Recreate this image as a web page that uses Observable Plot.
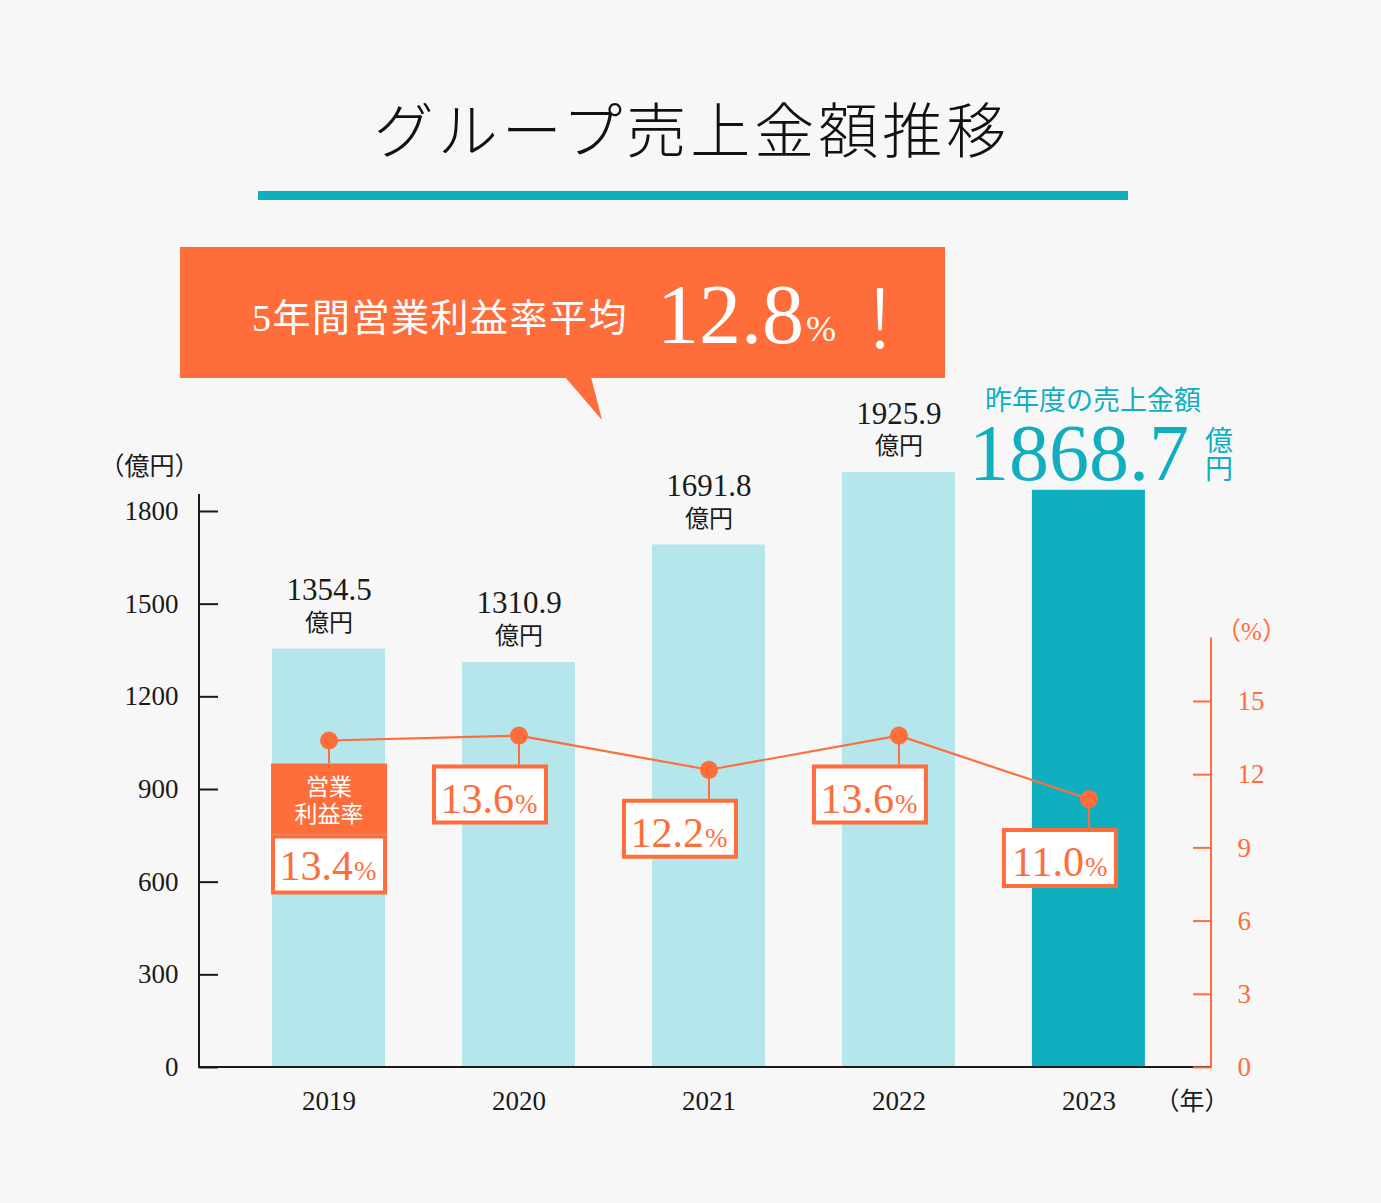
<!DOCTYPE html>
<html lang="ja">
<head>
<meta charset="utf-8">
<script src="https://cdn.jsdelivr.net/npm/d3@7"></script>
<script src="https://cdn.jsdelivr.net/npm/@observablehq/plot@0.6"></script>
<style>
  html, body { margin: 0; padding: 0; background: #f7f7f7; }
  #wrap { position: relative; width: 1381px; height: 1203px; background: #f7f7f7; overflow: hidden; }
  #wrap > svg { position: absolute; left: 0; top: 0; }
</style>
</head>
<body>
<div id="wrap">
  <svg id="header" width="1381" height="440" xmlns="http://www.w3.org/2000/svg">
    <text x="692" y="153" text-anchor="middle" font-size="60" letter-spacing="4" font-weight="300"
          font-family="'Noto Sans CJK JP', sans-serif" fill="#111">グループ売上金額推移</text>
    <rect x="258" y="191" width="870" height="9" fill="#0fafc0"/>
    <rect x="180" y="247" width="765" height="131" fill="#ff6d3b"/>
    <polygon points="565,377 591,377 602,420" fill="#ff6d3b"/>
    <text x="252" y="331" font-size="38" letter-spacing="1.5" fill="#fff"
          font-family="'Liberation Serif','Noto Sans CJK JP', serif">5年間営業利益率平均</text>
    <text id="avg" x="804" y="343" text-anchor="end" font-size="84" fill="#fff"
          font-family="'Liberation Serif', serif"></text>
    <text x="806" y="341" font-size="36" fill="#fff" font-family="'Liberation Serif', serif">%</text>
    <text x="880" y="348" text-anchor="middle" font-size="80" font-weight="300" fill="#fff"
          font-family="'Noto Sans CJK JP', sans-serif">！</text>
  </svg>
</div>
<script>
// ---- data ----
const years = ["2019", "2020", "2021", "2022", "2023"];
const sales = [1354.5, 1310.9, 1691.8, 1925.9, 1868.7];      // 億円
const opMargin = [13.4, 13.6, 12.2, 13.6, 11.0];             // 営業利益率 %
const salesTicks = [0, 300, 600, 900, 1200, 1500, 1800];
const marginTicks = [0, 3, 6, 9, 12, 15];

// ---- styling ----
const ORANGE = "#ff6d3b", TEAL = "#0fafc0", LIGHT = "#b5e6eb", INK = "#1a1a1a";
const SERIF = "'Liberation Serif','Noto Sans CJK JP',serif";
const K = 79;              // sales units per 1 % on the secondary axis
const Y_MAX = 1855;        // top of left axis line
const PCT_AXIS_TOP = 17.6; // top of right axis line (in %)

const rows = years.map((year, i) => ({year, sales: sales[i], margin: opMargin[i]}));
const past = rows.slice(0, -1), latest = rows.slice(-1);
const first = rows.slice(0, 1), rest = rows.slice(1);
const pctY = d => d.margin * K;

document.getElementById("avg").textContent = d3.mean(opMargin).toFixed(1);

// custom symbols (rect boxes and stems hanging under the dots)
const boxSym = (w, h, top, shift) => ({draw(ctx) { ctx.rect(shift - w / 2, top, w, h); }});
const stemSym = len => ({draw(ctx) { ctx.moveTo(0, 0); ctx.lineTo(0, len); }});

function axisLines(index, scales, values, dims) {
  const {width, height, marginLeft, marginRight, marginBottom} = dims;
  const y = scales.y;
  const xl = marginLeft, xr = width - marginRight, yb = height - marginBottom;
  const g = d3.create("svg:g");
  g.append("line").attr("x1", xl).attr("x2", xl).attr("y1", y(Y_MAX)).attr("y2", yb)
    .attr("stroke", INK).attr("stroke-width", 2);
  g.append("line").attr("x1", xl - 1).attr("x2", xr).attr("y1", yb).attr("y2", yb)
    .attr("stroke", INK).attr("stroke-width", 2);
  g.append("line").attr("x1", xr).attr("x2", xr).attr("y1", y(PCT_AXIS_TOP * K)).attr("y2", yb + 1)
    .attr("stroke", ORANGE).attr("stroke-width", 2);
  return g.node();
}

const chart = Plot.plot({
  width: 1381,
  height: 1203,
  marginTop: 494,
  marginBottom: 136,
  marginLeft: 199,
  marginRight: 170,
  style: {background: "transparent", fontFamily: SERIF, overflow: "visible"},
  x: {type: "band", domain: years, paddingInner: 0.405, paddingOuter: 0.366, align: 0.525, round: false},
  y: {domain: [0, Y_MAX]},
  marks: [
    Plot.barY(past, {x: "year", y: "sales", fill: LIGHT}),
    Plot.barY(latest, {x: "year", y: "sales", fill: TEAL}),
    axisLines,
    Plot.axisY(salesTicks, {anchor: "left", tickSize: 19, dx: 19, tickPadding: 21, fontSize: 27,
      tickFormat: d => String(d), stroke: INK, strokeWidth: 2, fill: INK, label: null}),
    Plot.axisY(marginTicks.map(v => v * K), {anchor: "right", tickSize: 19, dx: -19, tickPadding: 26,
      tickFormat: d => String(Math.round(d / K)), fontSize: 27, stroke: ORANGE, strokeWidth: 2,
      fill: ORANGE, label: null}),
    Plot.axisX({tickSize: 0, tickPadding: 23, fontSize: 27, fill: INK, label: null}),
    Plot.text(["（億円）"], {frameAnchor: "top-left", dx: 0, dy: -37, textAnchor: "end", fontSize: 25, fill: INK}),
    Plot.text(["（年）"], {frameAnchor: "bottom-right", dx: 18, dy: 42, textAnchor: "end", fontSize: 25, fill: INK}),
    Plot.text(["（%）"], {y: [PCT_AXIS_TOP * K], frameAnchor: "right", dx: 40, dy: -6, textAnchor: "middle",
      fontSize: 25, fill: ORANGE}),

    // value labels on past bars
    Plot.text(past, {x: "year", y: "sales", text: d => d.sales.toFixed(1), dy: -59, fontSize: 31, fill: INK}),
    Plot.text(past, {x: "year", y: "sales", text: () => "億円", dy: -26, fontSize: 24, fill: INK}),

    // latest year highlight
    Plot.text(latest, {x: "year", y: "sales", text: () => "昨年度の売上金額", dx: 4, dy: -89, fontSize: 27, fill: TEAL}),
    Plot.text(latest, {x: "year", y: "sales", text: d => d.sales.toFixed(1), textAnchor: "end", dx: 100, dy: -10,
      lineAnchor: "bottom", fontSize: 80, fill: TEAL}),
    Plot.text(latest, {x: "year", y: "sales", text: () => "億\n円", dx: 130, dy: -34, fontSize: 28,
      lineHeight: 0.97, fill: TEAL}),

    // operating margin line
    Plot.line(rows, {x: "year", y: pctY, stroke: ORANGE, strokeWidth: 2.2}),
    Plot.dot(first, {x: "year", y: pctY, symbol: stemSym(23), stroke: ORANGE, strokeWidth: 2, fill: "none"}),
    Plot.dot(rest, {x: "year", y: pctY, symbol: stemSym(29), stroke: ORANGE, strokeWidth: 2, fill: "none"}),

    // first year: header block + box
    Plot.dot(first, {x: "year", y: pctY, symbol: boxSym(116, 71, 23, 0), fill: ORANGE, stroke: "none"}),
    Plot.text(first, {x: "year", y: pctY, text: () => "営業\n利益率", dy: 59, fontSize: 23, lineHeight: 1.17, fill: "#fff"}),
    Plot.dot(first, {x: "year", y: pctY, symbol: boxSym(112, 56, 96, 0), fill: "#fff", stroke: ORANGE, strokeWidth: 4}),
    Plot.text(first, {x: "year", y: pctY, text: d => d.margin.toFixed(1), textAnchor: "end", dx: 24, dy: 139,
      lineAnchor: "bottom", fontSize: 42, fill: ORANGE}),
    Plot.text(first, {x: "year", y: pctY, text: () => "%", textAnchor: "start", dx: 25, dy: 139,
      lineAnchor: "bottom", fontSize: 27, fill: ORANGE}),

    // other years: boxes
    Plot.dot(rest, {x: "year", y: pctY, symbol: boxSym(112, 56, 31, -29), fill: "#fff", stroke: ORANGE, strokeWidth: 4}),
    Plot.text(rest, {x: "year", y: pctY, text: d => d.margin.toFixed(1), textAnchor: "end", dx: -5, dy: 77,
      lineAnchor: "bottom", fontSize: 42, fill: ORANGE}),
    Plot.text(rest, {x: "year", y: pctY, text: () => "%", textAnchor: "start", dx: -4, dy: 77,
      lineAnchor: "bottom", fontSize: 27, fill: ORANGE}),

    Plot.dot(rows, {x: "year", y: pctY, r: 9, fill: ORANGE})
  ]
});

const wrap = document.getElementById("wrap");
wrap.insertBefore(chart, document.getElementById("header"));
</script>
</body>
</html>
